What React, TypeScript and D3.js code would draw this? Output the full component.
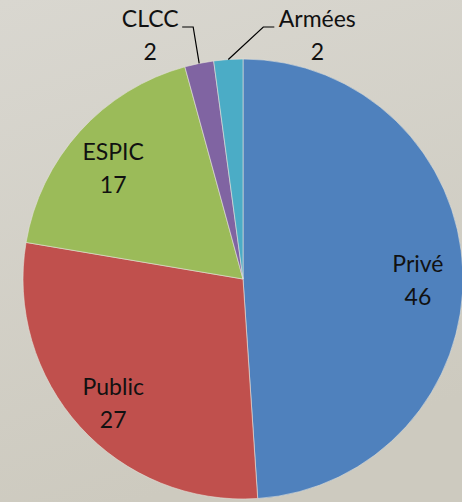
import * as d3 from "d3";
import React, { useEffect, useRef } from "react";

// Chart data
const categories = ["Privé", "Public", "ESPIC", "CLCC", "Armées"];
const values = [46, 27, 17, 2, 2];
const colors = ["#4f81bd", "#c0504d", "#9bbb59", "#8064a2", "#4bacc6"];
// slices whose label sits outside with a leader line
const outside = ["CLCC", "Armées"];

interface Slice {
  name: string;
  value: number;
  color: string;
}

const App: React.FC = () => {
  const svgRef = useRef<SVGSVGElement>(null);

  useEffect(() => {
    document.body.style.margin = "0";
    if (!svgRef.current) return;
    const svg = d3.select(svgRef.current);
    const width = 462;
    const height = 502;
    const cx = 243;
    const cy = 279;
    const radius = 220;

    svg.selectAll("*").remove();

    // background
    const defs = svg.append("defs");
    const grad = defs
      .append("linearGradient")
      .attr("id", "bg")
      .attr("x1", 0)
      .attr("y1", 0)
      .attr("x2", 0.3)
      .attr("y2", 1);
    grad.append("stop").attr("offset", "0%").attr("stop-color", "#d9d7d0");
    grad.append("stop").attr("offset", "100%").attr("stop-color", "#cdcabf");
    svg
      .append("rect")
      .attr("width", width)
      .attr("height", height)
      .attr("fill", "url(#bg)");

    const data: Slice[] = categories.map((name, i) => ({
      name,
      value: values[i],
      color: colors[i],
    }));

    const pie = d3
      .pie<Slice>()
      .sort(null)
      .value((d) => d.value);
    const arcs = pie(data);

    const arc = d3
      .arc<d3.PieArcDatum<Slice>>()
      .innerRadius(0)
      .outerRadius(radius);
    const labelArc = d3
      .arc<d3.PieArcDatum<Slice>>()
      .innerRadius(175)
      .outerRadius(175);

    const g = svg.append("g").attr("transform", `translate(${cx},${cy})`);

    g.selectAll(".slice")
      .data(arcs)
      .enter()
      .append("path")
      .attr("class", "slice")
      .attr("d", arc)
      .attr("fill", (d) => d.data.color)
      .attr("stroke", "#e4e2da")
      .attr("stroke-width", 0.6);

    const font = "Lato, 'Open Sans', sans-serif";
    const fontSize = 23;
    const lineGap = 33;

    // inside labels
    const inside = arcs.filter((d) => !outside.includes(d.data.name));
    const lbl = g
      .selectAll(".label")
      .data(inside)
      .enter()
      .append("text")
      .attr("class", "label")
      .attr("transform", (d) => {
        const [x, y] = labelArc.centroid(d);
        return `translate(${x},${y})`;
      })
      .attr("text-anchor", "middle")
      .attr("font-family", font)
      .attr("font-size", fontSize)
      .attr("fill", "#111");
    lbl
      .append("tspan")
      .attr("x", 0)
      .attr("y", -lineGap / 2 + 15)
      .text((d) => d.data.name);
    lbl
      .append("tspan")
      .attr("x", 0)
      .attr("y", lineGap / 2 + 15)
      .text((d) => d.data.value);

    // outside labels with leader lines
    const outArcs = arcs.filter((d) => outside.includes(d.data.name));
    const baseY = -radius - 32; // label first baseline above pie
    outArcs.forEach((d) => {
      const mid = (d.startAngle + d.endAngle) / 2;
      const ax = radius * Math.sin(mid);
      const ay = -radius * Math.cos(mid);
      const left = d.data.name === "CLCC";
      const elbowX = left ? ax - 6 : ax + 35;
      const endX = left ? elbowX - 11 : elbowX + 11;
      const textX = left ? endX - 32 : endX + 43;
      g.append("path")
        .attr(
          "d",
          d3.line()([
            [ax, ay],
            [elbowX, baseY],
            [endX, baseY],
          ])
        )
        .attr("fill", "none")
        .attr("stroke", "#000")
        .attr("stroke-width", 1.2);
      const t = g
        .append("text")
        .attr("text-anchor", "middle")
        .attr("font-family", font)
        .attr("font-size", fontSize)
        .attr("fill", "#111");
      t.append("tspan").attr("x", textX).attr("y", baseY).text(d.data.name);
      t.append("tspan")
        .attr("x", textX)
        .attr("y", baseY + lineGap)
        .text(d.data.value);
    });
  }, []);

  return (
    <svg
      ref={svgRef}
      width={462}
      height={502}
      style={{ position: "absolute", left: 0, top: 0, display: "block" }}
    ></svg>
  );
};

export default App;
